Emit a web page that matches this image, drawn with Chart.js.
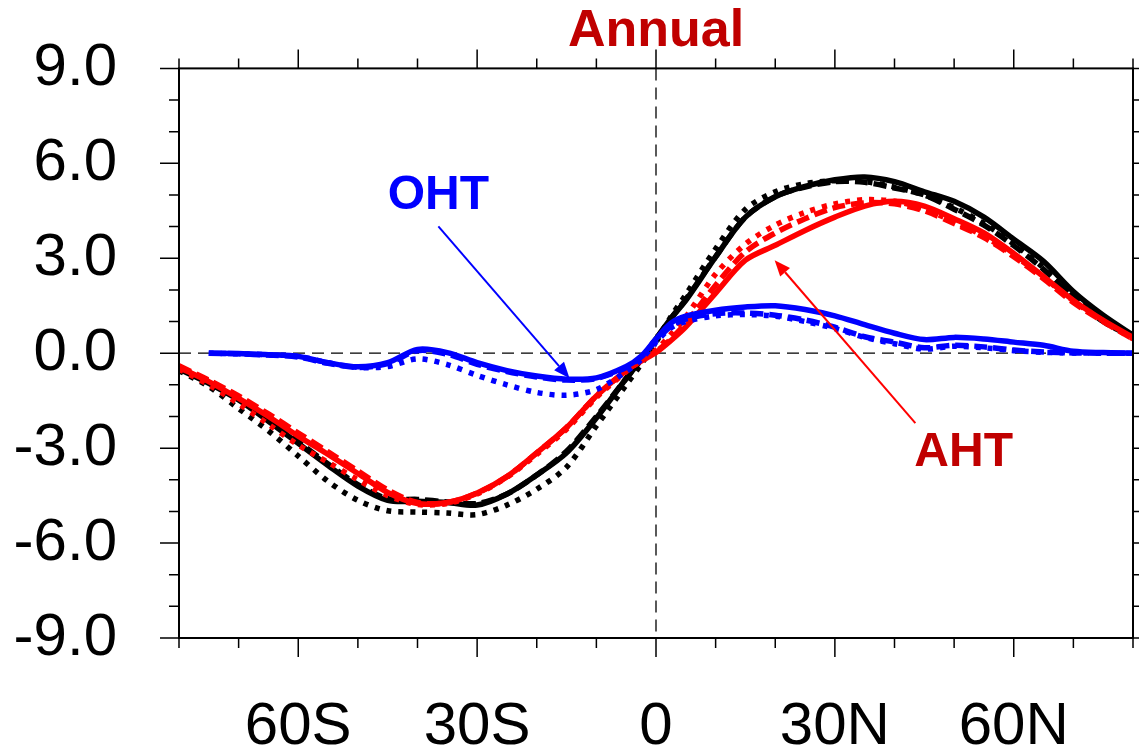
<!DOCTYPE html>
<html>
<head>
<meta charset="utf-8">
<title>Annual</title>
<script src="https://cdn.jsdelivr.net/npm/chart.js@4.4.1/dist/chart.umd.min.js"></script>
<style>
  html, body { margin: 0; padding: 0; background: #fff; }
  #wrap { width: 1139px; height: 754px; }
</style>
</head>
<body>
<div id="wrap"><canvas id="chart"></canvas></div>
<script>
// latitude grid (deg, S negative)
const lats = [-80, -75, -70, -65, -60, -55, -50, -45, -40, -35, -30, -25, -20, -15, -10, -5, -2.5,
  0, 2.5, 5, 10, 15, 20, 25, 30, 35, 40, 45, 50, 55, 60, 65, 70, 75, 80];

// total heat transport (black)
const totSolid = [-0.5, -0.95, -1.48, -2.15, -2.85, -3.55, -4.2, -4.65, -4.68, -4.72, -4.8, -4.45, -3.85, -3.15, -2.05, -0.8, -0.2,
  0.45, 1.1, 1.67, 3.04, 4.3, 4.94, 5.27, 5.48, 5.57, 5.42, 5.1, 4.8, 4.3, 3.6, 2.9, 1.95, 1.2, 0.57];
const totDash = [-0.45, -0.9, -1.45, -2.1, -2.8, -3.5, -4.15, -4.6, -4.62, -4.7, -4.75, -4.45, -3.85, -3.1, -2.0, -0.8, -0.2,
  0.45, 1.1, 1.7, 3.05, 4.3, 4.95, 5.25, 5.42, 5.4, 5.22, 5.0, 4.55, 4.05, 3.4, 2.65, 1.75, 1.0, 0.5];
const totDot = [-0.55, -1.05, -1.75, -2.45, -3.25, -4.05, -4.65, -4.98, -5.02, -5.05, -5.1, -4.8, -4.3, -3.6, -2.3, -1.0, -0.35,
  0.35, 1.15, 1.85, 3.3, 4.55, 5.1, 5.36, 5.45, 5.42, 5.25, 5.0, 4.6, 4.1, 3.45, 2.7, 1.8, 1.05, 0.5];

// atmospheric heat transport (red)
const ahtSolid = [-0.45, -0.9, -1.43, -2.0, -2.62, -3.2, -3.8, -4.4, -4.75, -4.72, -4.42, -3.9, -3.15, -2.35, -1.35, -0.55, -0.25,
  0.02, 0.4, 0.83, 1.9, 2.94, 3.41, 3.88, 4.3, 4.65, 4.8, 4.65, 4.25, 3.8, 3.15, 2.42, 1.67, 1.04, 0.5];
const ahtDash = [-0.4, -0.85, -1.35, -1.92, -2.52, -3.12, -3.72, -4.32, -4.72, -4.72, -4.42, -3.9, -3.15, -2.35, -1.35, -0.55, -0.22,
  0.05, 0.45, 0.95, 2.15, 3.2, 3.8, 4.25, 4.6, 4.75, 4.72, 4.5, 4.1, 3.65, 3.05, 2.35, 1.6, 1.0, 0.45];
const ahtDot = [-0.5, -1.0, -1.6, -2.25, -2.9, -3.45, -4.0, -4.5, -4.78, -4.75, -4.45, -3.92, -3.2, -2.4, -1.4, -0.58, -0.22,
  0.1, 0.6, 1.15, 2.5, 3.45, 4.05, 4.45, 4.72, 4.85, 4.8, 4.55, 4.15, 3.7, 3.1, 2.4, 1.65, 1.02, 0.45];

// ocean heat transport (blue)
const ohtSolid = [null, 0.0, -0.01, -0.05, -0.1, -0.3, -0.43, -0.3, 0.12, 0.02, -0.3, -0.55, -0.72, -0.82, -0.78, -0.42, -0.1,
  0.45, 0.95, 1.17, 1.36, 1.46, 1.5, 1.38, 1.18, 0.9, 0.63, 0.43, 0.5, 0.45, 0.35, 0.25, 0.06, 0.02, 0.0];
const ohtDash = [null, 0.0, -0.02, -0.06, -0.12, -0.32, -0.45, -0.33, 0.08, -0.03, -0.35, -0.58, -0.75, -0.85, -0.8, -0.45, -0.12,
  0.4, 0.85, 1.08, 1.25, 1.27, 1.2, 1.05, 0.82, 0.52, 0.35, 0.17, 0.25, 0.2, 0.1, 0.04, 0.01, 0.0, 0.0];
const ohtDot = [null, 0.0, -0.02, -0.05, -0.1, -0.3, -0.45, -0.42, -0.18, -0.36, -0.7, -1.0, -1.24, -1.33, -1.15, -0.58, -0.2,
  0.35, 0.8, 1.0, 1.18, 1.22, 1.17, 1.0, 0.78, 0.5, 0.3, 0.13, 0.22, 0.17, 0.08, 0.03, 0.01, 0.0, 0.0];

const FONT = '"Liberation Sans", Arial, Helvetica, sans-serif';
const DARKRED = '#c00000';

function series(vals, color, dash) {
  return {
    data: lats.map((x, i) => ({ x: x, y: vals[i] })),
    borderColor: color,
    borderWidth: 5.5,
    borderDash: dash === 'dash' ? [13, 6] : dash === 'dot' ? [5, 7] : [],
    pointRadius: 0,
    tension: 0.3,
    fill: false,
    spanGaps: false
  }
}

// first dataset ends up on top
const datasets = [
  series(ohtSolid, '#0000ff', 'solid'),
  series(ohtDash, '#0000ff', 'dash'),
  series(ohtDot, '#0000ff', 'dot'),
  series(ahtSolid, '#ff0000', 'solid'),
  series(ahtDash, '#ff0000', 'dash'),
  series(ahtDot, '#ff0000', 'dot'),
  series(totSolid, '#000000', 'solid'),
  series(totDash, '#000000', 'dash'),
  series(totDot, '#000000', 'dot')
];

function arrow(ctx, x0, y0, x1, y1, color) {
  const a = Math.atan2(y1 - y0, x1 - x0);
  const len = 16, half = 6.5;
  ctx.save();
  ctx.strokeStyle = color;
  ctx.fillStyle = color;
  ctx.lineWidth = 2;
  ctx.beginPath();
  ctx.moveTo(x0, y0);
  ctx.lineTo(x1 - len * Math.cos(a), y1 - len * Math.sin(a));
  ctx.stroke();
  ctx.beginPath();
  ctx.moveTo(x1, y1);
  ctx.lineTo(x1 - len * Math.cos(a) + half * Math.sin(a), y1 - len * Math.sin(a) - half * Math.cos(a));
  ctx.lineTo(x1 - len * Math.cos(a) - half * Math.sin(a), y1 - len * Math.sin(a) + half * Math.cos(a));
  ctx.closePath();
  ctx.fill();
  ctx.restore();
}

function noPad(s) {
  s.paddingTop = 0; s.paddingBottom = 0; s.paddingLeft = 0; s.paddingRight = 0;
}

const decor = {
  id: 'decor',
  beforeDatasetsDraw(chart) {
    const { ctx, chartArea: ca, scales: { x, y } } = chart;
    ctx.save();
    ctx.strokeStyle = '#000';
    ctx.lineWidth = 1.3;
    ctx.setLineDash([12, 7]);
    const y0 = y.getPixelForValue(0), x0 = x.getPixelForValue(0);
    ctx.beginPath();
    ctx.moveTo(ca.left, y0); ctx.lineTo(ca.right, y0);
    ctx.moveTo(x0, ca.top); ctx.lineTo(x0, ca.bottom);
    ctx.stroke();
    ctx.restore();
  },
  afterDatasetsDraw(chart) {
    const { ctx, chartArea: ca, scales: { x, y } } = chart;
    // frame
    ctx.save();
    ctx.strokeStyle = '#000';
    ctx.lineWidth = 2;
    ctx.strokeRect(ca.left, ca.top, ca.right - ca.left, ca.bottom - ca.top);
    ctx.lineWidth = 1.5;
    ctx.beginPath();
    for (let v = -80; v <= 80; v += 10) {
      const px = x.getPixelForValue(v);
      const len = v % 30 === 0 ? 19 : 10;
      ctx.moveTo(px, ca.bottom); ctx.lineTo(px, ca.bottom + len);
      ctx.moveTo(px, ca.top); ctx.lineTo(px, ca.top - len);
    }
    for (let v = -9; v <= 9; v += 1) {
      const py = y.getPixelForValue(v);
      const len = v % 3 === 0 ? 19 : 10;
      ctx.moveTo(ca.left, py); ctx.lineTo(ca.left - len, py);
      ctx.moveTo(ca.right, py); ctx.lineTo(ca.right + len, py);
    }
    ctx.stroke();
    ctx.restore();

    // labels and arrows
    const X = v => x.getPixelForValue(v), Y = v => y.getPixelForValue(v);
    ctx.save();
    ctx.textAlign = 'center';
    ctx.textBaseline = 'middle';
    ctx.font = 'bold 48px ' + FONT;
    ctx.fillStyle = '#0000ff';
    ctx.fillText('OHT', X(-36.5), Y(4.98));
    ctx.fillStyle = DARKRED;
    ctx.fillText('AHT', X(51.6), Y(-3.16));
    ctx.restore();
    arrow(ctx, X(-36.5), Y(4.01), X(-14.5), Y(-0.79), '#0000ff');
    arrow(ctx, X(43.5), Y(-2.21), X(19.9), Y(2.94), '#ff0000');
  }
};

new Chart(document.getElementById('chart'), {
  type: 'line',
  data: { datasets: datasets },
  options: {
    responsive: true,
    maintainAspectRatio: false,
    animation: false,
    layout: { padding: { right: 6 } },
    plugins: {
      legend: { display: false },
      tooltip: { enabled: false },
      title: {
        display: true,
        text: 'Annual',
        color: DARKRED,
        fullSize: false,
        font: { family: FONT, size: 52, weight: 'bold' },
        padding: { top: 0, bottom: 6 }
      }
    },
    scales: {
      x: {
        type: 'linear',
        min: -80,
        max: 80,
        grid: { display: false, drawTicks: false },
        border: { display: false },
        afterFit: s => { s.height = 116; noPad(s); },
        ticks: {
          stepSize: 10,
          autoSkip: false,
          maxRotation: 0,
          padding: 53,
          color: '#000',
          font: { family: FONT, size: 60 },
          callback: v => v === 0 ? '0' : (v % 30 === 0 ? Math.abs(v) + (v < 0 ? 'S' : 'N') : '')
        }
      },
      y: {
        min: -9,
        max: 9,
        grid: { display: false, drawTicks: false },
        border: { display: false },
        afterFit: s => { s.width = 179; noPad(s); },
        ticks: {
          stepSize: 1,
          autoSkip: false,
          padding: 62,
          color: '#000',
          font: { family: FONT, size: 60 },
          callback: v => v % 3 === 0 ? (v === 0 ? '0.0' : v.toFixed(1)) : ''
        }
      }
    }
  },
  plugins: [decor]
});
</script>
</body>
</html>
